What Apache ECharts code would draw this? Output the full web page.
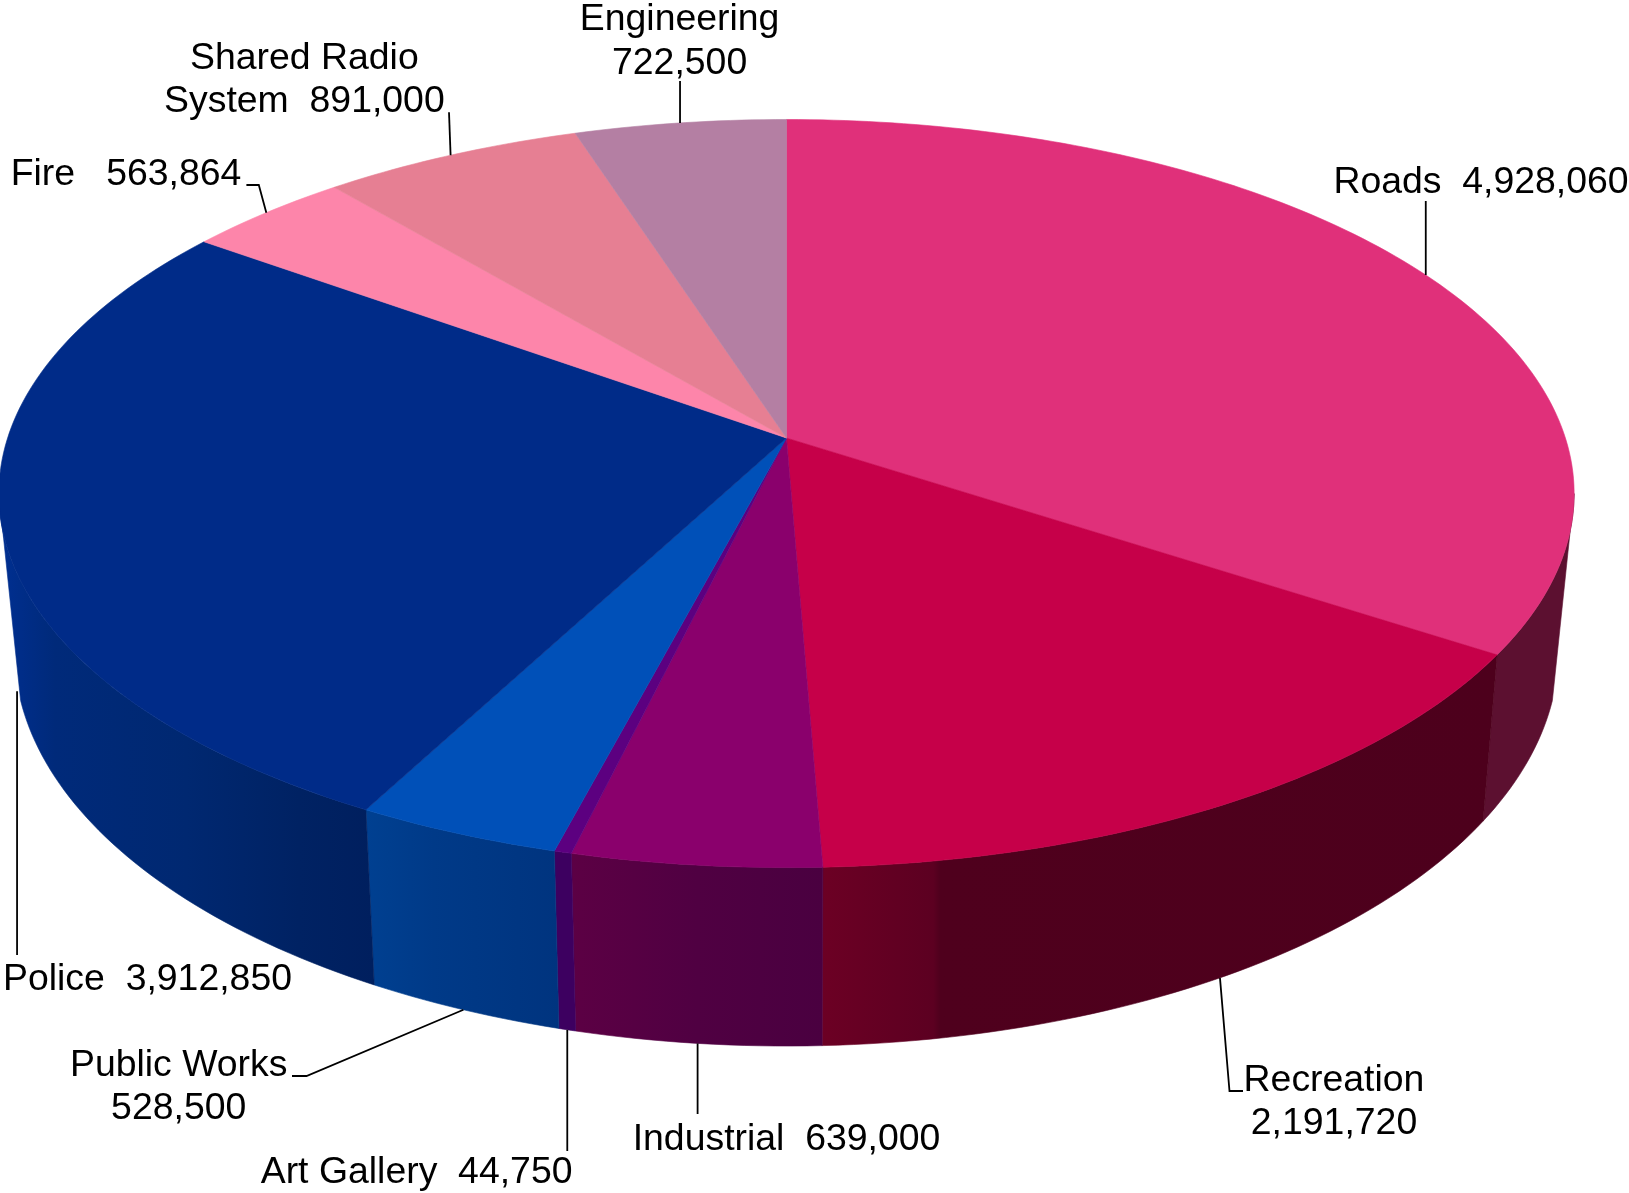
<!DOCTYPE html>
<html>
<head>
<meta charset="utf-8">
<title>Budget by department</title>
<script src="https://cdn.jsdelivr.net/npm/echarts@6/dist/echarts.min.js"></script>
<style>
  html, body { margin: 0; padding: 0; background: #fff; }
  #chart { width: 1629px; height: 1193px; }
</style>
</head>
<body>
<div id="chart"></div>
<script>
// Departments in clockwise order, starting at twelve o'clock.
const departments = ['Roads', 'Recreation', 'Industrial', 'Art Gallery', 'Public Works', 'Police', 'Fire', 'Shared Radio System', 'Engineering'];
const amounts = [4928060, 2191720, 639000, 44750, 528500, 3912850, 563864, 891000, 722500];

// Text between name and amount, and where a long name wraps.
const labelNames = ['Roads', 'Recreation', 'Industrial', 'Art Gallery', 'Public Works', 'Police', 'Fire', 'Shared Radio\nSystem', 'Engineering'];
const labelGaps = ['  ', '\n', '  ', '  ', '\n', '  ', '   ', '  ', '\n'];

const topColours = ['#e0307a', '#c60049', '#8a006c', '#5c0080', '#0050b8', '#002b88', '#fd85aa', '#e67f93', '#b47fa3'];

// Side-wall shading, left to right across the visible part of each wall.
const wallShades = [
  [[0, '#5c1030'], [1, '#5c1030']],
  [[0, '#6c0024'], [0.165, '#5c0021'], [0.175, '#4f001d'], [1, '#4d001c']],
  [[0, '#5c0044'], [0.5, '#500042'], [1, '#4a0040']],
  [[0, '#3d0060'], [1, '#3d0060']],
  [[0, '#004091'], [0.35, '#003a88'], [1, '#00347f']],
  [[0, '#002f92'], [0.06, '#002d88'], [0.15, '#002a7a'], [0.5, '#002871'], [0.8, '#002263'], [1, '#001f5e']],
  [[0, '#8a4060'], [1, '#8a4060']],
  [[0, '#804050'], [1, '#804050']],
  [[0, '#604058'], [1, '#604058']]
];

// Label centres on the page.
const labelCentres = [[1481, 183], [1334, 1102], [786.5, 1140], [416.6, 1173], [178.7, 1087], [147.5, 980], [126, 174.5], [304.4, 80], [679.6, 41.5]];

// Which rim a leader leaves from (0 = top face, 1 = bottom of the wall).
const leaderRims = [0, 1, 1, 1, 1, 1, 0, 0, 0];
// Downward offset of a leader's starting point from its rim.
const leaderDrops = [0, 0, 0, 0, 0, 8, 0, 0, 0];
// Route from the rim to the label; a null x keeps the line vertical.
const leaderRoutes = [
  [[null, 201]],
  [[1229.5, 1091], [1243, 1091]],
  [[null, 1114]],
  [[null, 1151]],
  [[306.5, 1076], [292, 1076]],
  [[null, 955]],
  [[258.8, 185], [246.4, 185]],
  [[449, 112.3]],
  [[null, 81]]
];

// Perspective of the disc: the circle is mapped to the page through a homography.
const view = {
  apexX: 786.5,
  topApexY: 438,
  topSpanX: 778.9,
  topSpanY: 365.8,
  bottomApexY: 591.9,
  bottomSpanX: 763.5,
  bottomSpanY: 386.7,
  tilt: 0.1485,
  bottomSideDepth: 0.27
};

const total = amounts.reduce((a, b) => a + b, 0);
const startFractions = [];
amounts.reduce((run, v, i) => { startFractions[i] = run / total; return run + v; }, 0);

// Where each rim turns away from the viewer: walls stop at these angles.
const topSide = Math.acos(-view.tilt);
const bottomSide = Math.acos(-view.bottomSideDepth);

function project(angle, rim) {
  const u = Math.sin(angle);
  const v = -Math.cos(angle);
  const w = 1 - view.tilt * v;
  return rim === 0
    ? [view.apexX + view.topSpanX * u / w, view.topApexY + view.topSpanY * v / w]
    : [view.apexX + view.bottomSpanX * u / w, view.bottomApexY + view.bottomSpanY * v / w];
}

function sectorAngles(i, value) {
  const a0 = startFractions[i] * 2 * Math.PI;
  return [a0, a0 + value / total * 2 * Math.PI];
}

function arcPoints(a0, a1, rim) {
  const steps = Math.max(4, Math.ceil((a1 - a0) / (Math.PI / 180)));
  const pts = [];
  for (let s = 0; s <= steps; s++) {
    pts.push(project(a0 + (a1 - a0) * s / steps, rim));
  }
  return pts;
}

function renderWall(params, api) {
  const i = params.dataIndex;
  const [a0, a1] = sectorAngles(i, api.value(0));
  const t0 = Math.max(a0, topSide);
  const t1 = Math.min(a1, 2 * Math.PI - topSide);
  const b0 = Math.max(a0, bottomSide);
  const b1 = Math.min(a1, 2 * Math.PI - bottomSide);
  if (t1 <= t0 || b1 <= b0) return null;
  const points = arcPoints(t0, t1, 0).concat(arcPoints(b0, b1, 1).reverse());
  const stops = wallShades[i].map(s => ({ offset: s[0], color: s[1] }));
  const shade = new echarts.graphic.LinearGradient(0, 0, 1, 0, stops);
  return {
    type: 'polygon',
    shape: { points: points },
    style: { fill: shade, stroke: shade, lineWidth: 0.6 }
  };
}

function renderTop(params, api) {
  const i = params.dataIndex;
  const [a0, a1] = sectorAngles(i, api.value(0));
  const points = [[view.apexX, view.topApexY]].concat(arcPoints(a0, a1, 0));
  return {
    type: 'polygon',
    shape: { points: points },
    style: { fill: topColours[i], stroke: topColours[i], lineWidth: 0.6 }
  };
}

function renderLabel(params, api) {
  const i = params.dataIndex;
  const value = api.value(0);
  const [a0, a1] = sectorAngles(i, value);
  const rimPoint = project((a0 + a1) / 2, leaderRims[i]);
  const anchor = [rimPoint[0], rimPoint[1] + leaderDrops[i]];
  const route = leaderRoutes[i].map(p => [p[0] === null ? anchor[0] : p[0], p[1]]);
  return {
    type: 'group',
    children: [
      {
        type: 'polyline',
        shape: { points: [anchor].concat(route) },
        style: { fill: null, stroke: '#000', lineWidth: 1.8 }
      },
      {
        type: 'text',
        x: labelCentres[i][0],
        y: labelCentres[i][1],
        style: {
          text: labelNames[i] + labelGaps[i] + value.toLocaleString('en-US'),
          fill: '#000',
          font: '37.4px "Liberation Sans", Arial, sans-serif',
          lineHeight: 43.6,
          align: 'center',
          verticalAlign: 'middle'
        }
      }
    ]
  };
}

const chart = echarts.init(document.getElementById('chart'), null, { renderer: 'canvas' });
const rows = amounts.map((v, i) => ({ name: departments[i], value: [v] }));
chart.setOption({
  animation: false,
  backgroundColor: '#ffffff',
  tooltip: { show: false },
  series: [
    { type: 'custom', name: 'walls', coordinateSystem: 'none', z: 1, silent: true, renderItem: renderWall, data: rows },
    { type: 'custom', name: 'faces', coordinateSystem: 'none', z: 2, silent: true, renderItem: renderTop, data: rows },
    { type: 'custom', name: 'labels', coordinateSystem: 'none', z: 3, silent: true, renderItem: renderLabel, data: rows }
  ]
});
</script>
</body>
</html>
